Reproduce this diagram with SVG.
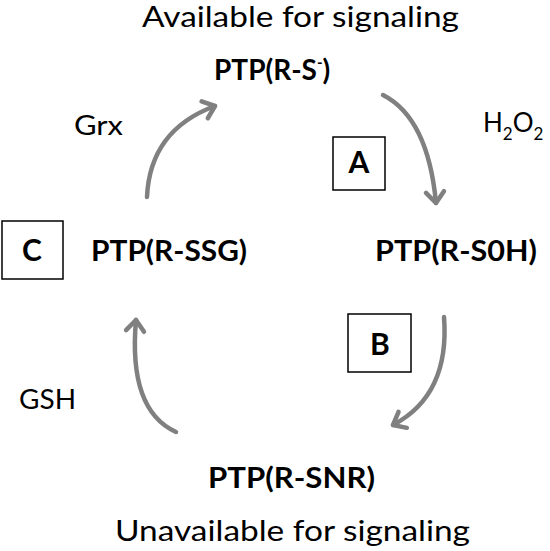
<svg xmlns="http://www.w3.org/2000/svg" width="550" height="551" viewBox="0 0 550 551">
<style>
.t{font-family:Lato,"Liberation Sans",sans-serif;fill:#000}
.n{font-family:Lato,"Liberation Sans",sans-serif;font-weight:bold;font-size:28px;fill:#000}
.lbl{font-family:Lato,"Liberation Sans",sans-serif;font-size:26px;fill:#000}
.box{fill:#fff;stroke:#000;stroke-width:1.5}
.bl{font-family:Lato,"Liberation Sans",sans-serif;font-weight:bold;font-size:30px;fill:#000;text-anchor:middle}
.arr{fill:none;stroke:#808080;stroke-width:4.5;stroke-linecap:round;marker-end:url(#head)}
</style>
<defs>
<marker id="head" markerUnits="userSpaceOnUse" markerWidth="30" markerHeight="30" refX="15" refY="15" orient="auto" overflow="visible">
<polyline points="4,6 15,15 4,24" fill="none" stroke="#808080" stroke-width="4.5" stroke-linecap="round" stroke-linejoin="round"/>
</marker>
</defs>
<rect width="550" height="551" fill="#fff"/>
<text class="t" x="300.5" y="27" font-size="28" text-anchor="middle" textLength="317" lengthAdjust="spacingAndGlyphs">Available for signaling</text>
<text class="t" x="292.5" y="541" font-size="29" text-anchor="middle" textLength="355" lengthAdjust="spacingAndGlyphs">Unavailable for signaling</text>
<g id="connectors">
<path class="arr" d="M383,95 Q428,118 436,203"/>
<path class="arr" d="M147,197 Q150,130 215,106"/>
<path class="arr" d="M444,317 Q450,395 393,425"/>
<path class="arr" d="M176,432 Q128,410 136,320"/>
</g>
<g id="node-rs">
<text class="n" x="214" y="80">PTP(R-S<tspan font-size="15" dy="-12">-</tspan><tspan dy="12">)</tspan></text>
</g>
<g id="node-rsoh">
<text class="n" x="375" y="261" textLength="162" lengthAdjust="spacingAndGlyphs">PTP(R-S0H)</text>
</g>
<g id="node-rsnr">
<text class="n" x="208" y="488" textLength="167" lengthAdjust="spacingAndGlyphs">PTP(R-SNR)</text>
</g>
<g id="node-rssg">
<text class="n" x="91" y="261" textLength="156" lengthAdjust="spacingAndGlyphs">PTP(R-SSG)</text>
</g>
<g id="label-grx"><text class="lbl" x="74" y="135" textLength="49" lengthAdjust="spacingAndGlyphs">Grx</text></g>
<g id="label-h2o2"><text class="lbl" x="483" y="132" font-size="25">H<tspan font-size="17" dy="8">2</tspan><tspan dy="-8">O</tspan><tspan font-size="17" dy="8">2</tspan></text></g>
<g id="label-gsh"><text class="lbl" x="19" y="409" textLength="57" lengthAdjust="spacingAndGlyphs">GSH</text></g>
<g id="box-a"><rect class="box" x="333" y="137" width="52" height="53"/><text class="bl" x="359" y="173">A</text></g>
<g id="box-b"><rect class="box" x="348" y="314" width="63" height="58"/><text class="bl" x="380" y="355">B</text></g>
<g id="box-c"><rect class="box" x="2" y="221" width="61" height="58"/><text class="bl" x="32" y="261">C</text></g>
</svg>
